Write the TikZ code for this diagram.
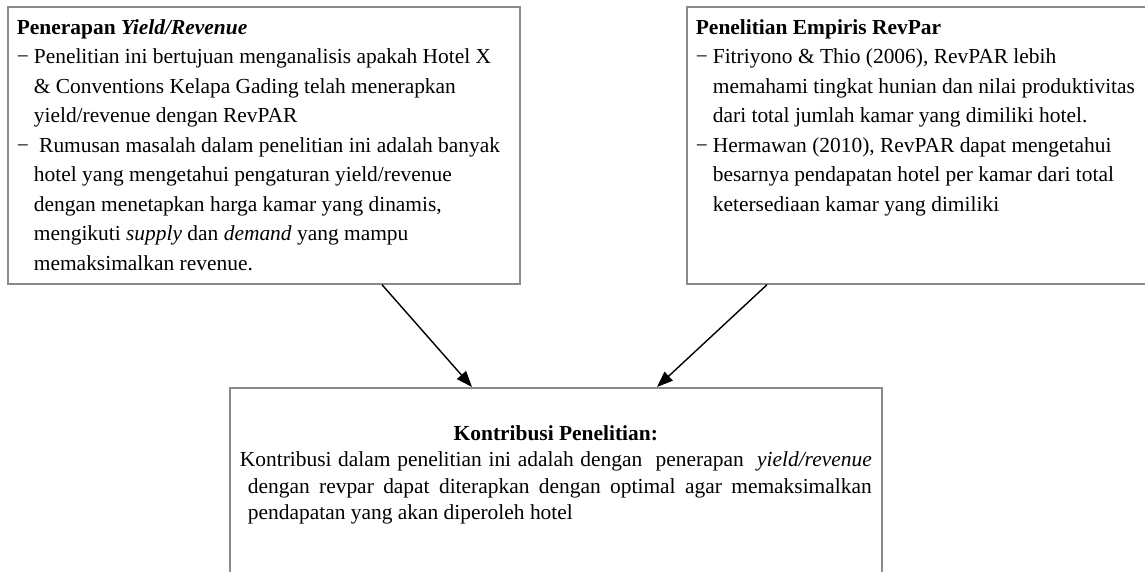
\documentclass[tikz,border=0pt]{standalone}
\usepackage{fontspec}
\setmainfont{Liberation Serif}
\usetikzlibrary{arrows.meta,calc}
\definecolor{abu}{HTML}{8A8A8A}
\newcommand{\strip}{\makebox[0.34cm][l]{−}}
\newcommand{\lanjut}{\hspace*{0.34cm}}
\begin{document}
\begin{tikzpicture}[
    x=0.02cm, y=-0.02cm,
    kotak/.style={draw=abu, line width=1pt, anchor=north west, inner xsep=0.18cm, inner ysep=0pt},
    panah/.style={-{Triangle[length=0.32cm, width=0.24cm]}, line width=0.8pt}
]
\useasboundingbox (0,0) rectangle (1145,571);
\node (kiri) [kotak] at (7,6) {\parbox[t][5.54cm][t]{9.88cm}{%
    \fontsize{12.2pt}{16.8pt}\selectfont\raggedright
    \rule{0pt}{0.55cm}\textbf{Penerapan \textit{Yield/Revenue}}\\
    \strip Penelitian ini bertujuan menganalisis apakah Hotel X\\
    \lanjut\& Conventions Kelapa Gading telah menerapkan\\
    \lanjut yield/revenue dengan RevPAR\\
    \strip\ Rumusan masalah dalam penelitian ini adalah banyak\\
    \lanjut hotel yang mengetahui pengaturan yield/revenue\\
    \lanjut dengan menetapkan harga kamar yang dinamis,\\
    \lanjut mengikuti \textit{supply} dan \textit{demand} yang mampu\\
    \lanjut memaksimalkan revenue.}};
\node (kanan) [kotak] at (686,6) {\parbox[t][5.54cm][t]{8.92cm}{%
    \fontsize{12.2pt}{16.8pt}\selectfont\raggedright
    \rule{0pt}{0.55cm}\textbf{Penelitian Empiris RevPar}\\
    \strip Fitriyono \& Thio (2006), RevPAR lebih\\
    \lanjut memahami tingkat hunian dan nilai produktivitas\\
    \lanjut dari total jumlah kamar yang dimiliki hotel.\\
    \strip Hermawan (2010), RevPAR dapat mengetahui\\
    \lanjut besarnya pendapatan hotel per kamar dari total\\
    \lanjut ketersediaan kamar yang dimiliki}};
\node (bawah) [kotak, inner xsep=0.2cm] at (229,387) {\parbox[t][4.5cm][t]{12.64cm}{%
    \fontsize{12.2pt}{15pt}\selectfont
    \rule{0pt}{1.05cm}\makebox[\linewidth]{\textbf{Kontribusi Penelitian:}}\\
    \makebox[\linewidth][s]{Kontribusi dalam penelitian ini adalah dengan\ \ penerapan\ \ \textit{yield/revenue}}\\
    \hspace*{0.16cm}\makebox[\dimexpr\linewidth-0.16cm\relax][s]{dengan revpar dapat diterapkan dengan optimal agar memaksimalkan}\\
    \hspace*{0.16cm}pendapatan yang akan diperoleh hotel}};
\draw[panah] ($(kiri.south west)+(375,0)$) -- ($(bawah.north west)+(243,0)$);
\draw[panah] ($(kanan.south west)+(81,0)$) -- ($(bawah.north west)+(428,0)$);
\end{tikzpicture}
\end{document}
